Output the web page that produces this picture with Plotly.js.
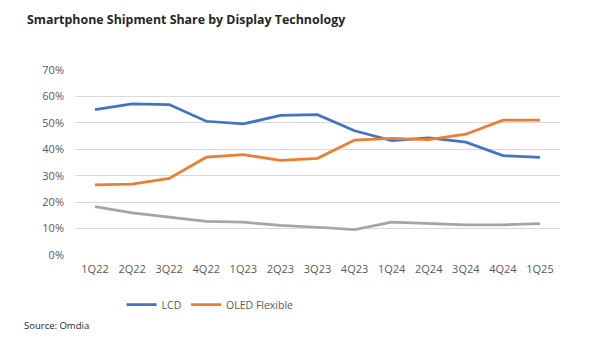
<!DOCTYPE html>
<html><head><meta charset="utf-8">
<script src="https://cdn.plot.ly/plotly-3.0.1.min.js"></script>
<style>body{margin:0;background:#fff}#chart{width:600px;height:357px}</style>
</head><body><div id="chart"></div>
<script>
const quarters = ["1Q22","2Q22","3Q22","4Q22","1Q23","2Q23","3Q23","4Q23","1Q24","2Q24","3Q24","4Q24","1Q25"];
const lcd = [0.550,0.572,0.569,0.506,0.496,0.528,0.531,0.470,0.433,0.443,0.427,0.376,0.369];
const oledFlexible = [0.265,0.268,0.290,0.370,0.380,0.358,0.366,0.435,0.441,0.437,0.457,0.510,0.510];
const oledRigid = [0.183,0.159,0.143,0.127,0.124,0.112,0.105,0.096,0.124,0.120,0.114,0.114,0.119];

const font = "Open Sans, Liberation Sans, sans-serif";
const traces = [
  {x: quarters, y: lcd, name: "LCD", type: "scatter", mode: "lines", line: {color: "#4472C4", width: 2.75}, legend: "legend"},
  {x: quarters, y: oledFlexible, name: "OLED Flexible", type: "scatter", mode: "lines", line: {color: "#ED7D31", width: 2.75}, legend: "legend2"},
  {x: quarters, y: oledRigid, name: "OLED Rigid", type: "scatter", mode: "lines", line: {color: "#A5A5A5", width: 2.75}, showlegend: false}
];
const legendFont = {size: 10.5, color: "#595959"};
const layout = {
  width: 600, height: 357,
  margin: {l: 75, r: 40, t: 70, b: 102},
  paper_bgcolor: "#fff", plot_bgcolor: "#fff",
  font: {family: font, color: "#595959", size: 11},
  title: {text: "<b>Smartphone Shipment Share by Display Technology</b>", x: 0.045, xanchor: "left", y: 0.945, yanchor: "middle",
          font: {family: font, size: 12.4, color: "#262626"}},
  xaxis: {type: "category", range: [-0.54, 12.54], showgrid: false, zeroline: false, showline: false, ticks: "",
          ticklabelstandoff: 6, tickfont: {size: 11, color: "#595959"}, fixedrange: true},
  yaxis: {range: [0, 0.7], dtick: 0.1, tickformat: ".0%", gridcolor: "#D9D9D9", gridwidth: 1, zeroline: false,
          showline: false, ticks: "", ticklabelstandoff: 10, tickfont: {size: 11, color: "#595959"}, fixedrange: true},
  showlegend: true,
  legend: {orientation: "h", x: 0.096, xanchor: "left", y: -0.19, yanchor: "top", font: legendFont},
  legend2: {orientation: "h", x: 0.229, xanchor: "left", y: -0.19, yanchor: "top", font: legendFont},
  annotations: [
    {text: "Source: Omdia", xref: "paper", yref: "paper", x: -0.11, xanchor: "left", y: -0.38, yanchor: "middle",
     showarrow: false, font: {size: 9.5, color: "#262626"}}
  ]
};
Plotly.newPlot("chart", traces, layout, {displayModeBar: false, staticPlot: true});
</script></body></html>
